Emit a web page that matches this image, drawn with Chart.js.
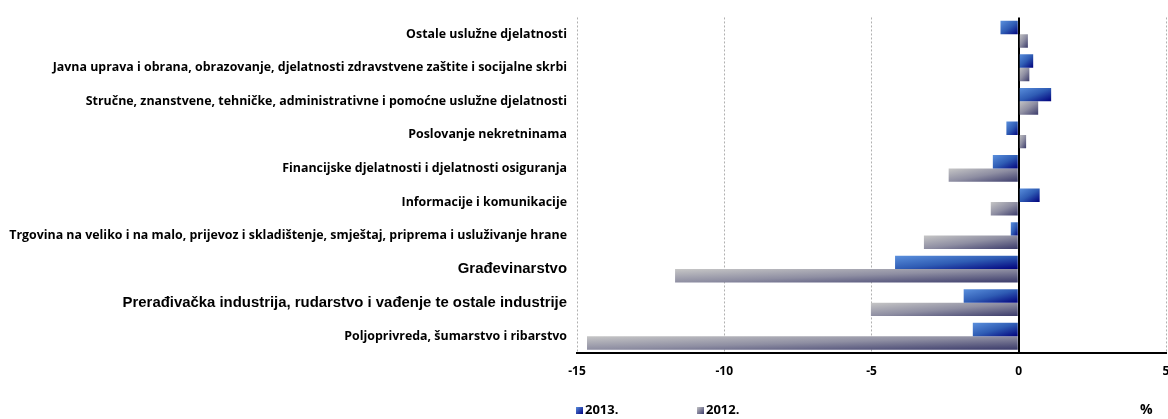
<!DOCTYPE html>
<html>
<head>
<meta charset="utf-8">
<script src="https://cdn.jsdelivr.net/npm/chart.js@4.4.1/dist/chart.umd.min.js"></script>
<style>
    html, body { margin: 0; padding: 0; background: #fff; }
    #wrap { position: relative; width: 1168px; height: 419px; overflow: hidden; }
    #legenda { position: absolute; top: 400px; left: 576px; font: bold 13px "Open Sans", sans-serif; color: #000; }
    .stavka { position: absolute; top: 0; white-space: nowrap; }
    .kvadrat { display: inline-block; width: 7px; height: 7px; margin-right: 2px; vertical-align: 0px; }
    #postotak { position: absolute; left: 1140px; top: 399px; font: bold 14px "Open Sans", sans-serif; }
</style>
</head>
<body>
<div id="wrap">
    <canvas id="chartDjelatnosti" width="1168" height="419"></canvas>
    <div id="legenda">
        <span class="stavka" style="left:0"><span class="kvadrat" style="background:linear-gradient(135deg,#5a8fdc,#000080)"></span>2013.</span>
        <span class="stavka" style="left:121px"><span class="kvadrat" style="background:linear-gradient(135deg,#c4c4c4,#3c3c6c)"></span>2012.</span>
    </div>
    <div id="postotak">%</div>
</div>
<script>
const djelatnosti = [
    'Ostale uslužne djelatnosti',
    'Javna uprava i obrana, obrazovanje, djelatnosti zdravstvene zaštite i socijalne skrbi',
    'Stručne, znanstvene, tehničke, administrativne i pomoćne uslužne djelatnosti',
    'Poslovanje nekretninama',
    'Financijske djelatnosti i djelatnosti osiguranja',
    'Informacije i komunikacije',
    'Trgovina na veliko i na malo, prijevoz i skladištenje, smještaj, priprema i usluživanje hrane',
    'Građevinarstvo',
    'Prerađivačka industrija, rudarstvo i vađenje te ostale industrije',
    'Poljoprivreda, šumarstvo i ribarstvo'
];
const vrijednosti2013 = [-0.62, 0.49, 1.1, -0.42, -0.88, 0.71, -0.27, -4.2, -1.87, -1.56];
const vrijednosti2012 = [0.31, 0.36, 0.66, 0.25, -2.38, -0.95, -3.22, -11.67, -5.02, -14.66];
const velikeOznake = [7, 8];

// diagonal gradient scaled to each bar (light top-left, dark bottom-right)
function gradijentStupca(ctx, svijetla, srednja, tamna) {
    const chart = ctx.chart;
    const x = chart.scales.x, y = chart.scales.y;
    if (!x || !y || ctx.type !== 'data') return srednja;
    const a = x.getPixelForValue(ctx.raw), b = x.getPixelForValue(0);
    const pojas = Math.abs(y.getPixelForValue(1) - y.getPixelForValue(0));
    const sredina = y.getPixelForValue(ctx.dataIndex);
    if (![a, b, pojas, sredina].every(Number.isFinite) || pojas === 0) return srednja;
    const lijevo = Math.min(a, b);
    const w = Math.max(Math.abs(a - b), 1);
    const h = pojas * 0.8 / 2;
    const vrh = sredina - pojas * 0.4 + ctx.datasetIndex * h;
    const k = 2 * w * h / (w * w + h * h);
    const g = chart.ctx.createLinearGradient(lijevo, vrh, lijevo + k * h, vrh + k * w);
    g.addColorStop(0, svijetla);
    g.addColorStop(0.5, srednja);
    g.addColorStop(1, tamna);
    return g;
}

new Chart(document.getElementById('chartDjelatnosti').getContext('2d'), {
    type: 'bar',
    data: {
        labels: djelatnosti,
        datasets: [
            { label: '2013.', data: vrijednosti2013, backgroundColor: c => gradijentStupca(c, '#5b90dd', '#2f5cb4', '#00007c') },
            { label: '2012.', data: vrijednosti2012, backgroundColor: c => gradijentStupca(c, '#c6c6c6', '#8e8ea2', '#3a3a6a') }
        ]
    },
    options: {
        indexAxis: 'y',
        responsive: false,
        animation: false,
        categoryPercentage: 0.8,
        barPercentage: 1,
        layout: { padding: { top: 12, bottom: 40, left: 0, right: 0 } },
        plugins: { legend: { display: false }, tooltip: { enabled: false } },
        scales: {
            x: {
                min: -15,
                max: 5,
                ticks: { stepSize: 5, color: '#000', padding: 11, font: { family: 'Open Sans', weight: 'bold', size: 12 } },
                grid: {
                    drawTicks: false,
                    color: c => c.tick && c.tick.value === 0 ? '#000' : '#b0b0b0',
                    lineWidth: c => c.tick && c.tick.value === 0 ? 2 : 1
                },
                border: {
                    display: true,
                    color: '#000',
                    width: 2,
                    dash: c => c.tick && c.tick.value === 0 ? [] : [2, 2]
                },
                afterFit: s => { s.height = 26; s.paddingLeft = 0; s.paddingRight = 2; }
            },
            y: {
                ticks: {
                    autoSkip: false,
                    color: '#000',
                    padding: 10,
                    font: c => velikeOznake.includes(c.index)
                        ? { family: 'Liberation Sans', weight: 'bold', size: 14.9 }
                        : { family: 'Open Sans', weight: 'bold', size: 12.4 }
                },
                grid: { display: false, drawTicks: false },
                border: { display: false },
                afterFit: s => { s.width = 577; }
            }
        }
    }
});
</script>
</body>
</html>
